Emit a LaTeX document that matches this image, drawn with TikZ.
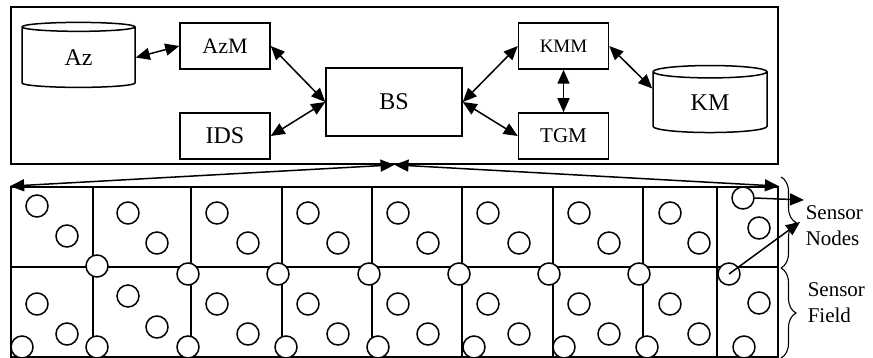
\documentclass[tikz,border=0pt]{standalone}
\usepackage{fontspec}
\setmainfont{Liberation Serif}
\usetikzlibrary{arrows.meta,shapes.geometric,decorations.pathreplacing}

\tikzset{
	>={Triangle[length=14pt,width=12pt]},
	module/.style={draw, minimum width=90pt, minimum height=46pt, inner sep=0pt},
	store/.style={draw, cylinder, shape border rotate=90, aspect=0.32, inner sep=0pt},
	sensor/.style={draw, circle, fill=white, minimum size=22pt, inner sep=0pt},
	link/.style={<->},
	big/.style={font=\fontsize{24}{28}\selectfont},
	side/.style={font=\fontsize{21}{26}\selectfont, align=left, anchor=west, inner sep=0pt}
}

\begin{document}
\begin{tikzpicture}[x = 1pt, y = -1pt, line width = 1.5pt]

		\useasboundingbox (0, 0) rectangle (873, 358);

		% base station
		\node[draw, line width = 1.7pt, minimum width = 767pt, minimum height = 157pt] (frame) at (394.5, 85.5) {};

		\node[store, big, minimum width = 113pt, minimum height = 65pt] (Az) at (78.5, 57.5) {Az};
		\node[module, font = \fontsize{22}{24}\selectfont] (AzM) at (225, 46) {AzM};
		\node[module, big] (IDS) at (225, 136) {IDS};
		\node[draw, big, minimum width = 136pt, minimum height = 68pt] (BS) at (394, 102) {BS};
		\node[module, font = \fontsize{19}{22}\selectfont] (KMM) at (563.5, 46) {KMM};
		\node[module, font = \fontsize{21}{24}\selectfont] (TGM) at (563.5, 136) {TGM};
		\node[store, big, minimum width = 114pt, minimum height = 67pt] (KM) at (710, 102.5) {KM};

		\draw[link] (Az.east) -- (AzM.west);
		\draw[link] (AzM.east) -- (BS.west);
		\draw[link] (IDS.east) -- (BS.west);
		\draw[link] (BS.east) -- (KMM.west);
		\draw[link] (BS.east) -- (TGM.west);
		\draw[link] (KMM.south) -- (TGM.north);
		\draw[link] (KMM.east) -- ([yshift = 14pt]KM.west);

		% sensor field
		\node[draw, line width = 1.7pt, minimum width = 767pt, minimum height = 170pt] (field) at (394.5, 272) {};
		\draw (11, 267) -- (778, 267);
		\foreach \x in {93, 191, 282, 372, 462, 553, 643, 717}
			\draw (\x, 187) -- (\x, 357);

		\draw[link] (frame.south) -- (field.north west);
		\draw[link] (frame.south) -- (field.north east);

		\foreach \x/\y [count = \i] in {37/206, 67/236, 128/213, 157/243, 217/213, 248/243, 308/213, 338/243,
				398/213, 428/243, 488/213, 519/243, 579/213, 609/243, 670/213, 699/243, 759/228,
				97/266, 188/274, 278/274, 369/274, 459/274, 549/274, 639/274,
				37/304, 67/334, 22/347, 128/296, 157/327, 97/347, 217/304, 248/334, 188/347,
				308/304, 338/334, 286/347, 398/304, 428/334, 378/347, 488/304, 519/334, 474/347,
				579/304, 609/334, 564/347, 670/304, 699/334, 647/347, 759/303, 744/347}
			\node[sensor] (s\i) at (\x, \y) {};
		\node[sensor] (sn1) at (743, 198) {};
		\node[sensor] (sn2) at (729, 274) {};

		% labels on the right
		\draw[decorate, decoration = {brace, amplitude = 15pt}, line width = 1.1pt] (781, 177) -- (781, 268);
		\draw[decorate, decoration = {brace, amplitude = 15pt}, line width = 1.1pt] (781, 268) -- (781, 358);

		\node[side] (nodeslabel) at (805, 226) {Sensor\\Nodes};
		\node[side] (fieldlabel) at (807, 303) {Sensor\\Field};

		\coordinate (tipA) at (804, 200);
		\coordinate (tipB) at (800, 222);
		\draw[->] (sn1.east) -- (tipA);
		\draw[->] (sn2.center) -- (tipB);

	\end{tikzpicture}
\end{document}
